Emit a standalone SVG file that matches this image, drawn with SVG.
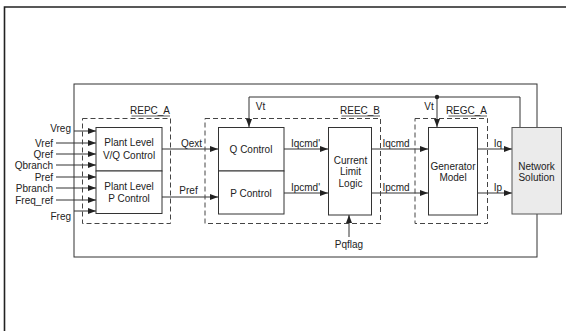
<svg xmlns="http://www.w3.org/2000/svg" width="566" height="331" viewBox="0 0 566 331">
<defs>
<marker id="ah" viewBox="0 0 8 6" refX="8" refY="3" markerWidth="8" markerHeight="6" markerUnits="userSpaceOnUse" orient="auto">
<path d="M0,0 L8,3 L0,6 Z" fill="#222"/>
</marker>
<style>
.t{font-family:"Liberation Sans",Arial,sans-serif;font-size:10px;fill:#222}
.m{text-anchor:middle}
.e{text-anchor:end}
.b{fill:#fff;stroke:#333;stroke-width:1}
.d{fill:none;stroke:#444;stroke-width:1;stroke-dasharray:5,3}
.w{fill:none;stroke:#333;stroke-width:1}
.a{fill:none;stroke:#333;stroke-width:1;marker-end:url(#ah)}
.u{stroke:#333;stroke-width:0.8}
</style>
</defs>
<rect width="566" height="331" fill="#fff"/>
<path d="M4.5,331 V7 H566" fill="none" stroke="#222" stroke-width="1.6"/>

<g id="connectors">
<rect x="74" y="84" width="463" height="173" class="w"/>
<path class="a" d="M74,131 H96"/>
<path class="a" d="M74,211 H96"/>
<path class="a" d="M56,143 H96"/>
<path class="a" d="M56,154 H96"/>
<path class="a" d="M56,165 H96"/>
<path class="a" d="M56,177 H96"/>
<path class="a" d="M56,188 H96"/>
<path class="a" d="M56,200 H96"/>
<path class="a" d="M162,149 H218"/>
<path class="a" d="M162,197 H218"/>
<path class="a" d="M284,149 H328"/>
<path class="a" d="M284,193 H328"/>
<path class="a" d="M372,149 H428"/>
<path class="a" d="M372,193 H428"/>
<path class="a" d="M478,149 H512"/>
<path class="a" d="M478,193 H512"/>
<path class="a" d="M520,127 V97 H249 V127"/>
<path class="a" d="M437,97 V127"/>
<circle cx="437" cy="97" r="2.2" fill="#222"/>
<path class="a" d="M349,237 V215"/>
</g>

<g id="REPC_A">
<rect x="82.5" y="118.5" width="88" height="105" class="d"/>
<text class="t e" x="170" y="114">REPC_A</text>
<line class="u" x1="131.5" y1="116" x2="170" y2="116"/>
</g>
<g id="REEC_B">
<rect x="205" y="118.5" width="175.5" height="105" class="d"/>
<text class="t e" x="380" y="114">REEC_B</text>
<line class="u" x1="341.5" y1="116" x2="380" y2="116"/>
</g>
<g id="REGC_A">
<rect x="415" y="118.5" width="72.5" height="105" class="d"/>
<text class="t e" x="487" y="114">REGC_A</text>
<line class="u" x1="448.5" y1="116" x2="487" y2="116"/>
</g>

<g id="vq_control">
<rect x="96" y="127.5" width="66" height="43.5" class="b"/>
<text class="t m" x="129" y="146">Plant Level</text>
<text class="t m" x="129" y="158.5">V/Q Control</text>
</g>
<g id="p_control_plant">
<rect x="96" y="171" width="66" height="42.5" class="b"/>
<text class="t m" x="129" y="190">Plant Level</text>
<text class="t m" x="129" y="201.5">P Control</text>
</g>
<g id="q_control">
<rect x="218.5" y="127.5" width="65.5" height="43.5" class="b"/>
<text class="t m" x="251" y="153">Q Control</text>
</g>
<g id="p_control">
<rect x="218.5" y="171" width="65.5" height="43" class="b"/>
<text class="t m" x="251" y="197">P Control</text>
</g>
<g id="current_limit">
<rect x="328.5" y="127.5" width="43" height="87.5" class="b"/>
<text class="t m" x="350.5" y="163.5">Current</text>
<text class="t m" x="350.5" y="175">Limit</text>
<text class="t m" x="350.5" y="186.5">Logic</text>
</g>
<g id="generator_model">
<rect x="428.5" y="127.5" width="49" height="87.5" class="b"/>
<text class="t m" x="453" y="169.5">Generator</text>
<text class="t m" x="453" y="181">Model</text>
</g>
<g id="network_solution">
<rect x="512" y="127.5" width="49.5" height="86.5" fill="#ebebeb" stroke="#555" stroke-width="1"/>
<text class="t m" x="536.5" y="169.5">Network</text>
<text class="t m" x="536.5" y="181">Solution</text>
</g>

<g id="labels">
<text class="t e" x="71" y="131.5">Vreg</text>
<text class="t e" x="53" y="146.5">Vref</text>
<text class="t e" x="53" y="157.5">Qref</text>
<text class="t e" x="53" y="168.5">Qbranch</text>
<text class="t e" x="53" y="180.5">Pref</text>
<text class="t e" x="53" y="191.5">Pbranch</text>
<text class="t e" x="53" y="203.5">Freq_ref</text>
<text class="t e" x="71" y="219.5">Freg</text>
<text class="t m" x="191.5" y="146.5">Qext</text>
<text class="t m" x="188.5" y="194">Pref</text>
<text class="t m" x="260.5" y="110">Vt</text>
<text class="t m" x="429" y="110">Vt</text>
<text class="t m" x="305.5" y="146.5">Iqcmd'</text>
<text class="t m" x="305.5" y="190.5">Ipcmd'</text>
<text class="t m" x="396" y="146.5">Iqcmd</text>
<text class="t m" x="396" y="190.5">Ipcmd</text>
<text class="t m" x="498" y="146.5">Iq</text>
<text class="t m" x="498" y="190.5">Ip</text>
<text class="t m" x="349" y="247.5">Pqflag</text>
</g>
</svg>
